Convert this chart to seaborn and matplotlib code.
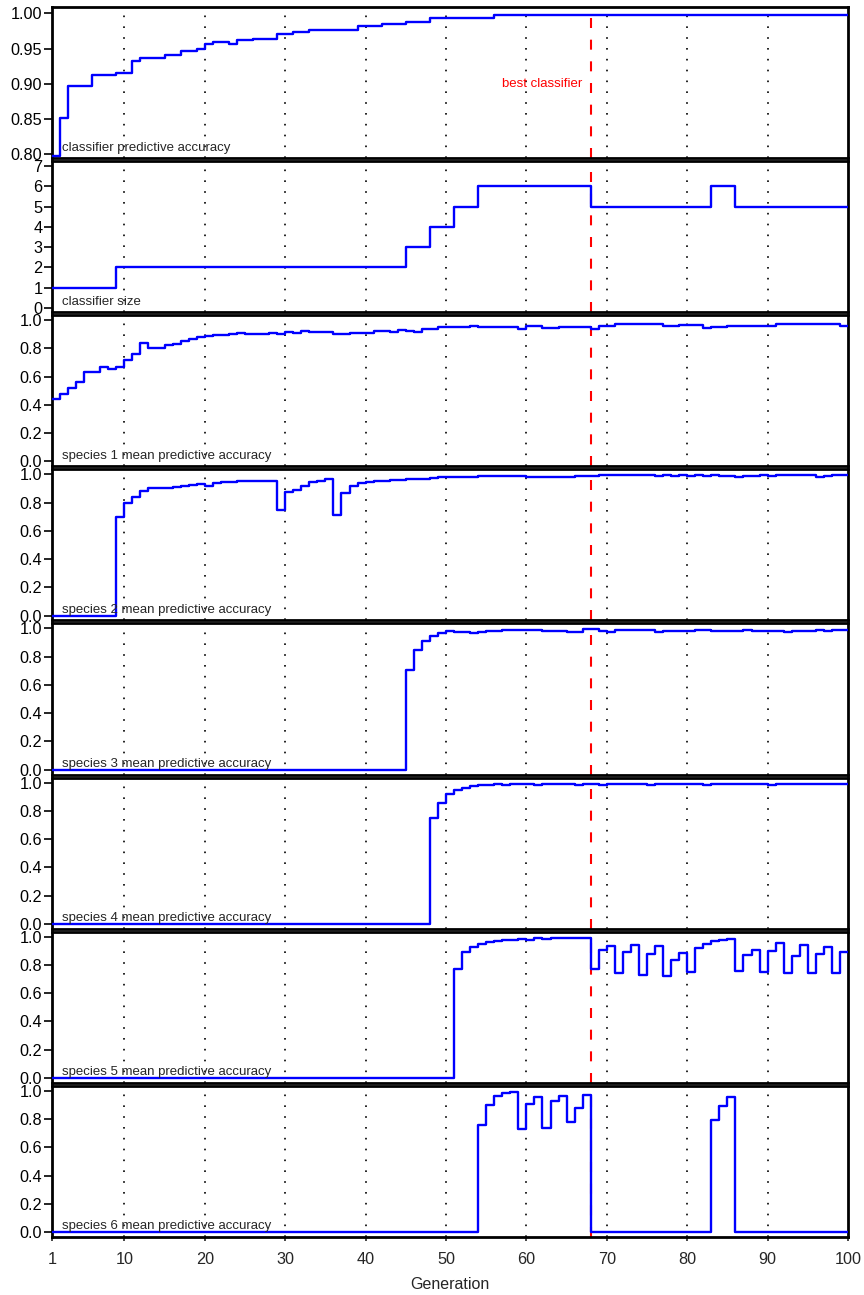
import matplotlib
matplotlib.use("Agg")
import numpy as np
import pandas as pd
import seaborn as sns
import matplotlib.pyplot as plt

# ---------------- data ----------------
generations = list(range(1, 101))

classifier_accuracy = (
    [0.797, 0.851, 0.897, 0.897, 0.897, 0.913, 0.913, 0.913, 0.916, 0.916,
     0.933, 0.936, 0.936, 0.936, 0.941, 0.941, 0.946, 0.946, 0.949, 0.957,
     0.959, 0.959, 0.956, 0.962, 0.962, 0.964, 0.964, 0.964, 0.970, 0.970,
     0.974, 0.974, 0.977, 0.977, 0.977, 0.977, 0.977, 0.977, 0.982, 0.982,
     0.982, 0.985, 0.985, 0.985, 0.988, 0.988, 0.988, 0.994, 0.994, 0.994,
     0.994, 0.994, 0.994, 0.994, 0.994]
    + [0.998] * 45
)

classifier_size = [1] * 8 + [2] * 36 + [3] * 3 + [4] * 3 + [5] * 3 + [6] * 14 + [5] * 15 + [6] * 3 + [5] * 15

species1 = [
    0.44, 0.475, 0.52, 0.56, 0.63, 0.635, 0.665, 0.655, 0.67, 0.72,
    0.76, 0.84, 0.80, 0.80, 0.825, 0.83, 0.85, 0.865, 0.88, 0.89,
    0.895, 0.895, 0.90, 0.91, 0.905, 0.90, 0.905, 0.91, 0.905, 0.915,
    0.91, 0.92, 0.915, 0.915, 0.915, 0.905, 0.905, 0.91, 0.91, 0.91,
    0.92, 0.925, 0.915, 0.93, 0.925, 0.915, 0.935, 0.935, 0.95, 0.95,
    0.95, 0.95, 0.96, 0.955, 0.955, 0.955, 0.955, 0.955, 0.94, 0.96,
    0.96, 0.945, 0.945, 0.95, 0.95, 0.955, 0.955, 0.94, 0.96, 0.96,
    0.972, 0.972, 0.972, 0.972, 0.972, 0.972, 0.96, 0.96, 0.965, 0.965,
    0.965, 0.945, 0.955, 0.955, 0.96, 0.96, 0.96, 0.96, 0.96, 0.96,
    0.97, 0.97, 0.97, 0.97, 0.97, 0.975, 0.975, 0.975, 0.96, 0.96,
]

species2 = [
    0.0, 0.0, 0.0, 0.0, 0.0, 0.0, 0.0, 0.0, 0.70, 0.80,
    0.84, 0.885, 0.90, 0.905, 0.905, 0.91, 0.915, 0.925, 0.93, 0.92,
    0.935, 0.945, 0.945, 0.95, 0.955, 0.955, 0.955, 0.95, 0.745, 0.875,
    0.89, 0.915, 0.945, 0.955, 0.97, 0.71, 0.87, 0.915, 0.94, 0.945,
    0.955, 0.955, 0.96, 0.96, 0.965, 0.97, 0.97, 0.975, 0.98, 0.98,
    0.98, 0.982, 0.982, 0.988, 0.988, 0.988, 0.99, 0.988, 0.988, 0.981,
    0.982, 0.98, 0.982, 0.981, 0.98, 0.988, 0.99, 0.988, 0.995, 0.997,
    0.997, 0.996, 0.997, 0.997, 0.995, 0.99, 0.992, 0.99, 0.993, 0.99,
    0.992, 0.99, 0.993, 0.99, 0.99, 0.982, 0.985, 0.99, 0.992, 0.99,
    0.993, 0.992, 0.993, 0.992, 0.993, 0.982, 0.99, 0.992, 0.993, 0.993,
]

species3 = [0.0] * 44 + [
    0.705, 0.85, 0.91, 0.945, 0.97, 0.98, 0.975, 0.975, 0.965, 0.975,
    0.985, 0.983, 0.988, 0.988, 0.988, 0.99, 0.988, 0.985, 0.982, 0.983,
    0.976, 0.976, 0.993, 0.993, 0.983, 0.976, 0.988, 0.988, 0.988, 0.988,
    0.988, 0.976, 0.983, 0.983, 0.983, 0.983, 0.988, 0.986, 0.985, 0.985,
    0.983, 0.985, 0.986, 0.985, 0.985, 0.983, 0.985, 0.972, 0.983, 0.983,
    0.983, 0.986, 0.983, 0.986, 0.988, 0.988,
]

species4 = [0.0] * 47 + [
    0.75, 0.855, 0.92, 0.95, 0.965, 0.975, 0.98, 0.985, 0.987, 0.985,
    0.988, 0.99, 0.988, 0.985, 0.99, 0.99, 0.988, 0.99, 0.985, 0.988,
    0.99, 0.985, 0.99, 0.99, 0.988, 0.99, 0.99, 0.985, 0.988, 0.99,
    0.99, 0.988, 0.99, 0.99, 0.985, 0.988, 0.99, 0.99, 0.99, 0.988,
    0.99, 0.99, 0.985, 0.99, 0.99, 0.99, 0.988, 0.99, 0.99, 0.99,
    0.988, 0.988, 0.99,
]

species5 = [0.0] * 50 + [
    0.773, 0.891, 0.929, 0.948, 0.962, 0.969, 0.976, 0.976, 0.981, 0.979,
    0.988, 0.986, 0.988, 0.99, 0.993, 0.988, 0.988, 0.768, 0.903, 0.934,
    0.74, 0.894, 0.939, 0.728, 0.875, 0.936, 0.721, 0.832, 0.884, 0.749,
    0.92, 0.95, 0.969, 0.979, 0.981, 0.756, 0.87, 0.903, 0.747, 0.898,
    0.953, 0.745, 0.861, 0.941, 0.742, 0.879, 0.927, 0.74, 0.894, 0.894,
]

species6 = [0.0] * 53 + [
    0.761, 0.90, 0.962, 0.988, 0.993, 0.728, 0.908, 0.955, 0.738, 0.931,
    0.965, 0.778, 0.879, 0.969,
] + [0.0] * 15 + [0.794, 0.889, 0.957] + [0.0] * 15

panel_labels = [
    "classifier predictive accuracy",
    "classifier size",
    "species 1 mean predictive accuracy",
    "species 2 mean predictive accuracy",
    "species 3 mean predictive accuracy",
    "species 4 mean predictive accuracy",
    "species 5 mean predictive accuracy",
    "species 6 mean predictive accuracy",
]
series = [classifier_accuracy, classifier_size, species1, species2,
          species3, species4, species5, species6]

best_generation = 68
x_ticks = [1, 10, 20, 30, 40, 50, 60, 70, 80, 90, 100]
grid_positions = [10, 20, 30, 40, 50, 60, 70, 80, 90]

# ---------------- style ----------------
sns.set_style("white")
plt.rcParams["font.family"] = ["Liberation Sans", "DejaVu Sans"]

fig, axes = plt.subplots(8, 1, figsize=(8.64, 12.95), dpi=100, sharex=True)
fig.subplots_adjust(left=0.0602, right=0.9815, top=0.9946, bottom=0.0448, hspace=0.02)

for i, (ax, vals, lab) in enumerate(zip(axes, series, panel_labels)):
    df = pd.DataFrame({"Generation": generations, "value": vals})
    for g in grid_positions:
        ax.axvline(g, color="black", lw=1.2, ls=(0, (1, 5.5)), zorder=1)
    ax.axvline(best_generation, color="#FF0000", lw=1.5, ls=(0, (4.8, 5.6)), zorder=2)
    sns.lineplot(data=df, x="Generation", y="value", ax=ax, color="#0000FF",
                 lw=1.7, drawstyle="steps-post", estimator=None, zorder=3)
    ax.set_xlim(1, 100)
    ax.set_ylabel("")
    ax.set_xlabel("")
    if i == 0:
        ax.set_ylim(0.7945, 1.009)
        ax.set_yticks([0.80, 0.85, 0.90, 0.95, 1.00])
        ax.set_yticklabels(["0.80", "0.85", "0.90", "0.95", "1.00"])
        ax.text(67, 0.90, "best classifier", color="#FF0000", ha="right",
                va="center", fontsize=9.5)
    elif i == 1:
        ax.set_ylim(-0.22, 7.25)
        ax.set_yticks(range(0, 8))
    else:
        ax.set_ylim(-0.035, 1.035)
        ax.set_yticks([0.0, 0.2, 0.4, 0.6, 0.8, 1.0])
        ax.set_yticklabels(["0.0", "0.2", "0.4", "0.6", "0.8", "1.0"])
    ax.text(0.0126, 0.03, lab, transform=ax.transAxes, fontsize=9.5,
            ha="left", va="bottom", zorder=4)
    for sp in ax.spines.values():
        sp.set_color("black")
        sp.set_linewidth(2)
    ax.tick_params(axis="y", left=True, length=6, width=1.2, direction="out",
                   pad=1, labelsize=11.7, colors="black")
    ax.tick_params(axis="x", bottom=False, labelbottom=False)

bottom_ax = axes[-1]
bottom_ax.set_xticks(x_ticks)
bottom_ax.tick_params(axis="x", bottom=True, labelbottom=True, length=3,
                      width=1.2, direction="out", pad=8, labelsize=11.7)
bottom_ax.set_xlabel("Generation", fontsize=11.5, labelpad=7)

fig.savefig("out.png", dpi=100)
